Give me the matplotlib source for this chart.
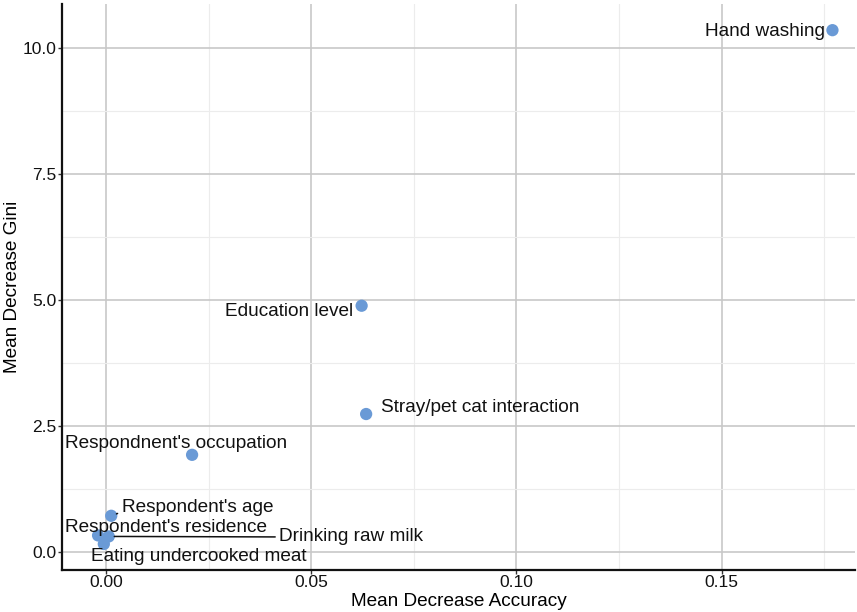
import numpy as np
import matplotlib.pyplot as plt
from matplotlib.ticker import MultipleLocator

plt.rcParams['font.family'] = ['Liberation Sans', 'DejaVu Sans']

# variable importance values
features = ["Hand washing", "Education level", "Stray/pet cat interaction",
            "Respondnent's occupation", "Respondent's age", "Respondent's residence",
            "Drinking raw milk", "Eating undercooked meat"]
mda = [0.177, 0.0623, 0.0634, 0.0210, 0.0013, -0.0019, 0.0007, -0.0005]
mdg = [10.35, 4.88, 2.73, 1.92, 0.71, 0.32, 0.30, 0.15]

# label positions (repelled text, data coords)
lab_x = [0.1606, 0.0447, 0.0913, 0.0171, 0.0223, 0.0147, 0.0598, 0.0226]
lab_y = [10.33, 4.76, 2.85, 2.15, 0.87, 0.47, 0.29, -0.10]
has_segment = [False, False, False, False, True, False, True, False]
seg_relpos = [(0, 0.5), (0, 0.5), (0, 0.5), (0, 0.5), (0, 0.25), (0, 0.5), (0, 0.5), (0, 0.5)]

fig = plt.figure(figsize=(8.57, 6.12), dpi=100)
ax = fig.add_axes([0.0723, 0.0694, 0.9254, 0.9241])

ax.scatter(mda, mdg, s=78, color='#6a9ad6', edgecolors='none', zorder=3)

for i, name in enumerate(features):
    if has_segment[i]:
        ax.annotate(name, xy=(mda[i], mdg[i]), xytext=(lab_x[i], lab_y[i]),
                    ha='center', va='center', fontsize=13.7, color='#111111', zorder=4,
                    arrowprops=dict(arrowstyle='-', color='#111111', lw=1.1,
                                    relpos=seg_relpos[i], shrinkA=1, shrinkB=4))
    else:
        ax.text(lab_x[i], lab_y[i], name, ha='center', va='center',
                fontsize=13.7, color='#111111', zorder=4)

ax.set_xlim(-0.0107, 0.1825)
ax.set_ylim(-0.357, 10.87)
ax.xaxis.set_major_locator(MultipleLocator(0.05))
ax.xaxis.set_minor_locator(MultipleLocator(0.025))
ax.yaxis.set_major_locator(MultipleLocator(2.5))
ax.yaxis.set_minor_locator(MultipleLocator(1.25))
ax.xaxis.set_major_formatter(plt.FuncFormatter(lambda v, p: f"{v:.2f}"))
ax.yaxis.set_major_formatter(plt.FuncFormatter(lambda v, p: f"{v:.1f}"))

ax.grid(True, which='major', color='#c8c8c8', lw=1.2, zorder=0)
ax.grid(True, which='minor', color='#ececec', lw=0.8, zorder=0)
ax.set_axisbelow(True)

for s in ['top', 'right']:
    ax.spines[s].set_visible(False)
for s in ['left', 'bottom']:
    ax.spines[s].set_linewidth(1.6)
    ax.spines[s].set_color('#111111')

ax.tick_params(which='major', length=3, width=1, color='#333333',
               labelsize=12.5, labelcolor='#111111', pad=1)
ax.tick_params(which='minor', length=0)

ax.set_xlabel('Mean Decrease Accuracy', fontsize=13.7, labelpad=2)
ax.set_ylabel('Mean Decrease Gini', fontsize=13.7)
ax.yaxis.set_label_coords(-0.052, 0.5)

fig.savefig('out.png', dpi=100)
